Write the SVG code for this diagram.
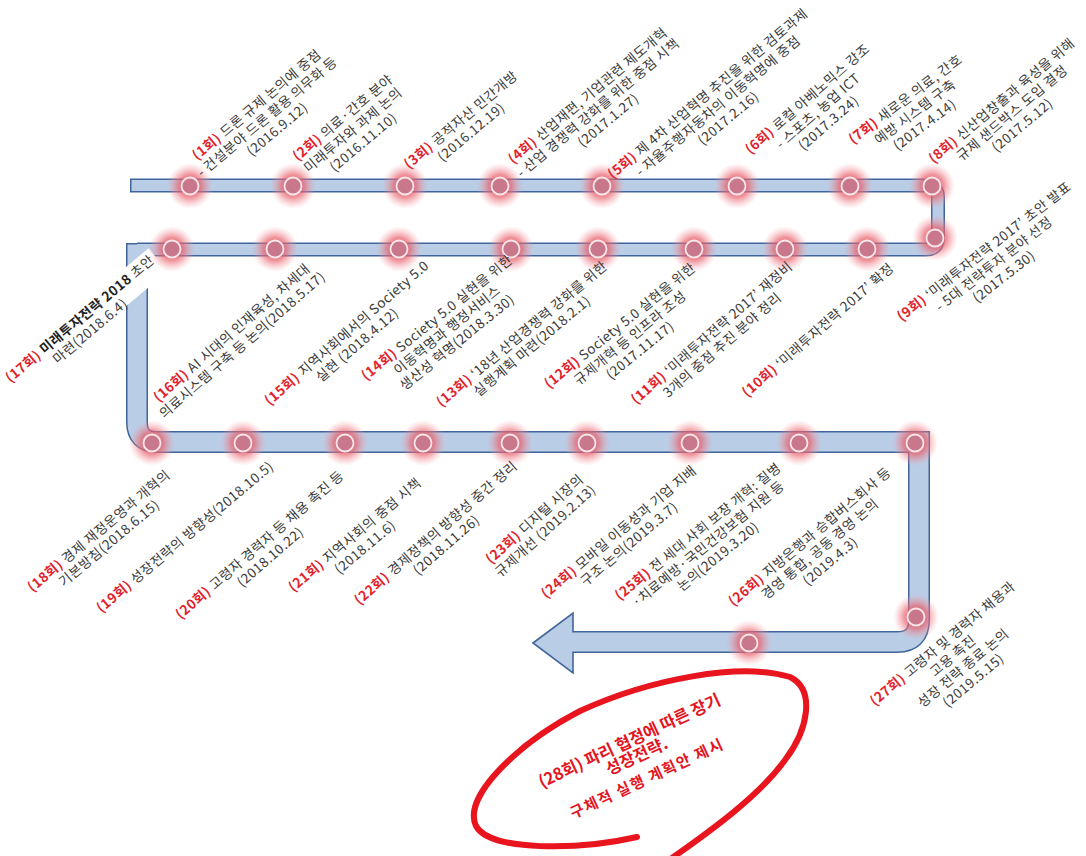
<svg xmlns="http://www.w3.org/2000/svg" xmlns:xlink="http://www.w3.org/1999/xlink" width="1086" height="856" viewBox="0 0 1086 856">
<style>
.t{font-family:"Noto Sans CJK KR","Noto Sans",sans-serif;font-size:13.5px;letter-spacing:0.5px;fill:#3a3a3a;text-anchor:middle}
.r{fill:#E3212B;font-weight:bold}
.b{font-weight:bold;fill:#222}
.dk{fill:none;stroke:#41659A;stroke-linejoin:miter}
.lt{fill:none;stroke:#B9CDE6;stroke-linejoin:miter}
.dot{fill:#C8788A;stroke:#F8E6EA;stroke-width:1.8}
.big{font-family:"Noto Sans CJK KR","Noto Sans",sans-serif;fill:#E3151F;font-weight:bold;text-anchor:middle}
</style>
<defs>
<radialGradient id="glow">
<stop offset="0" stop-color="#E4505E" stop-opacity="0.95"/>
<stop offset="0.5" stop-color="#E8646F" stop-opacity="0.7"/>
<stop offset="1" stop-color="#F4A0A8" stop-opacity="0"/>
</radialGradient>
<g id="m"><circle r="23" fill="url(#glow)"/><circle r="8.5" class="dot"/></g>
</defs>
<rect width="1086" height="856" fill="#fff"/>
<g id="connectors">
<path class="dk" stroke-width="14" d="M130,185.5 H926 Q938,185.5 938,197.5 V237.5 Q938,249.5 926,249.5 H137"/>
<path class="dk" stroke-width="22" d="M137,243 V422 Q137,442 157,442 H919 V620 Q919,642 897,642 H573"/>
<polygon points="533,643 573,613 573,673" fill="#B9CDE6" stroke="#41659A" stroke-width="1.6"/>
<path class="lt" stroke-width="11" d="M131.5,185.5 H926 Q938,185.5 938,197.5 V237.5 Q938,249.5 926,249.5 H137"/>
<path class="lt" stroke-width="19" d="M137,244.5 V422 Q137,442 157,442 H919 V620 Q919,642 897,642 H571"/>
</g>
<g id="n1"><use xlink:href="#m" x="190" y="186"/><g transform="translate(267,117) rotate(-40)">
<text class="t" y="-11.3"><tspan class="r">(1회)</tspan> 드론 규제 논의에 중점</text>
<text class="t" y="4.7">- 건설분야 드론 활용 의무화 등</text>
<text class="t" y="20.7">(2016.9.12)</text></g></g>
<g id="n2"><use xlink:href="#m" x="293" y="186"/><g transform="translate(353,130) rotate(-40)">
<text class="t" y="-11.3"><tspan class="r">(2회)</tspan> 의료·간호 분야</text>
<text class="t" y="4.7">미래투자와 과제 논의</text>
<text class="t" y="20.7">(2016.11.10)</text></g></g>
<g id="n3"><use xlink:href="#m" x="405" y="186"/><g transform="translate(466,126) rotate(-40)">
<text class="t" y="-3.3"><tspan class="r">(3회)</tspan> 공적자산 민간개방</text>
<text class="t" y="12.7">(2016.12.19)</text></g></g>
<g id="n4"><use xlink:href="#m" x="500" y="186"/><g transform="translate(598,108) rotate(-40)">
<text class="t" y="-11.3"><tspan class="r">(4회)</tspan> 산업재편, 기업관련 제도개혁</text>
<text class="t" y="4.7">- 산업 경쟁력 강화를 위한 중점 시책</text>
<text class="t" y="20.7">(2017.1.27)</text></g></g>
<g id="n5"><use xlink:href="#m" x="602" y="186"/><g transform="translate(718,106) rotate(-40)">
<text class="t" y="-11.3"><tspan class="r">(5회)</tspan> 제 4차 산업혁명 추진을 위한 검토과제</text>
<text class="t" y="4.7">- 자율주행자동차의 이동혁명에 중점</text>
<text class="t" y="20.7">(2017.2.16)</text></g></g>
<g id="n6"><use xlink:href="#m" x="737" y="186"/><g transform="translate(818,111) rotate(-41)">
<text class="t" y="-11.3"><tspan class="r">(6회)</tspan> 로컬 아베노믹스 강조</text>
<text class="t" y="4.7">- 스포츠, 농업 ICT</text>
<text class="t" y="20.7">(2017.3.24)</text></g></g>
<g id="n7"><use xlink:href="#m" x="850" y="186"/><g transform="translate(915,112) rotate(-37)">
<text class="t" y="-11.3"><tspan class="r">(7회)</tspan> 새로운 의료, 간호</text>
<text class="t" y="4.7">예방 시스템 구축</text>
<text class="t" y="20.7">(2017.4.14)</text></g></g>
<g id="n8"><use xlink:href="#m" x="932" y="186"/><g transform="translate(1012,113) rotate(-40)">
<text class="t" y="-11.3"><tspan class="r">(8회)</tspan> 신산업창출과 육성을 위해</text>
<text class="t" y="4.7">규제 샌드박스 도입 결정</text>
<text class="t" y="20.7">(2017.5.12)</text></g></g>
<g id="n9"><use xlink:href="#m" x="935" y="238"/><g transform="translate(994,264) rotate(-38)">
<text class="t" y="-11.3"><tspan class="r">(9회)</tspan> ‘미래투자전략 2017’ 초안 발표</text>
<text class="t" y="4.7">- 5대 전략투자 분야 선정</text>
<text class="t" y="20.7">(2017.5.30)</text></g></g>
<g id="n10"><use xlink:href="#m" x="867" y="249"/><g transform="translate(818,330) rotate(-41)">
<text class="t" y="4.7"><tspan class="r">(10회)</tspan> ‘미래투자전략 2017’ 확정</text></g></g>
<g id="n11"><use xlink:href="#m" x="785" y="249"/><g transform="translate(717,339) rotate(-41)">
<text class="t" y="-3.3"><tspan class="r">(11회)</tspan> ‘미래투자전략 2017’ 재정비</text>
<text class="t" y="12.7">3개의 중점 추진 분야 정리</text></g></g>
<g id="n12"><use xlink:href="#m" x="694" y="249"/><g transform="translate(630,338) rotate(-39)">
<text class="t" y="-11.3"><tspan class="r">(12회)</tspan> Society 5.0 실현을 위한</text>
<text class="t" y="4.7">규제개혁 등 인프라 조성</text>
<text class="t" y="20.7">(2017.11.17)</text></g></g>
<g id="n13"><use xlink:href="#m" x="598" y="249"/><g transform="translate(527,340) rotate(-40)">
<text class="t" y="-3.3"><tspan class="r">(13회)</tspan> ‘18년 산업경쟁력 강화를 위한</text>
<text class="t" y="12.7">실행계획 마련(2018.2.1)</text></g></g>
<g id="n14"><use xlink:href="#m" x="511" y="249"/><g transform="translate(447,330) rotate(-39)">
<text class="t" y="-11.3"><tspan class="r">(14회)</tspan> Society 5.0 실현을 위한</text>
<text class="t" y="4.7">이동혁명과 행정서비스</text>
<text class="t" y="20.7">생산성 혁명(2018.3.30)</text></g></g>
<g id="n15"><use xlink:href="#m" x="399" y="249"/><g transform="translate(352,339) rotate(-41)">
<text class="t" y="-3.3"><tspan class="r">(15회)</tspan> 지역사회에서의 Society 5.0</text>
<text class="t" y="12.7">실현 (2018.4.12)</text></g></g>
<g id="n16"><use xlink:href="#m" x="275" y="249"/><g transform="translate(237,339) rotate(-41)">
<text class="t" y="-3.3"><tspan class="r">(16회)</tspan> AI 시대의 인재육성, 차세대</text>
<text class="t" y="12.7">의료시스템 구축 등 논의(2018.5.17)</text></g></g>
<g id="n17"><g transform="translate(85,325) rotate(-40)">
<rect x="-98" y="-18" width="196" height="30" fill="#fff"/>
<text class="t" y="-3.3"><tspan class="r">(17회)</tspan> <tspan class="b">미래투자전략 2018</tspan> 초안</text>
<text class="t" y="12.7">마련(2018.6.4)</text></g><use xlink:href="#m" x="172" y="249"/></g>
<g id="n18"><use xlink:href="#m" x="152" y="443"/><g transform="translate(104,537) rotate(-40)">
<text class="t" y="-3.3"><tspan class="r">(18회)</tspan> 경제 재정운영과 개혁의</text>
<text class="t" y="12.7">기본방침(2018.6.15)</text></g></g>
<g id="n19"><use xlink:href="#m" x="243" y="443"/><g transform="translate(185,537) rotate(-40)">
<text class="t" y="4.7"><tspan class="r">(19회)</tspan> 성장전략의 방향성(2018.10.5)</text></g></g>
<g id="n20"><use xlink:href="#m" x="345" y="443"/><g transform="translate(265,551) rotate(-41)">
<text class="t" y="-3.3"><tspan class="r">(20회)</tspan> 고령자 경력자 등 채용 촉진 등</text>
<text class="t" y="12.7">(2018.10.22)</text></g></g>
<g id="n21"><use xlink:href="#m" x="423" y="443"/><g transform="translate(360,541) rotate(-40)">
<text class="t" y="-3.3"><tspan class="r">(21회)</tspan> 지역사회의 중점 시책</text>
<text class="t" y="12.7">(2018.11.6)</text></g></g>
<g id="n22"><use xlink:href="#m" x="510" y="443"/><g transform="translate(441,539) rotate(-41)">
<text class="t" y="-3.3"><tspan class="r">(22회)</tspan> 경제정책의 방향성 중간 정리</text>
<text class="t" y="12.7">(2018.11.26)</text></g></g>
<g id="n23"><use xlink:href="#m" x="587" y="443"/><g transform="translate(540,525) rotate(-42)">
<text class="t" y="-3.3"><tspan class="r">(23회)</tspan> 디지털 시장의</text>
<text class="t" y="12.7">규제개선 (2019.2.13)</text></g></g>
<g id="n24"><use xlink:href="#m" x="690" y="443"/><g transform="translate(624,538) rotate(-40)">
<text class="t" y="-3.3"><tspan class="r">(24회)</tspan> 모바일 이동성과 기업 지배</text>
<text class="t" y="12.7">구조 논의(2019.3.7)</text></g></g>
<g id="n25"><use xlink:href="#m" x="799" y="443"/><g transform="translate(708,544) rotate(-39)">
<text class="t" y="-11.3"><tspan class="r">(25회)</tspan> 전 세대 사회 보장 개혁: 질병</text>
<text class="t" y="4.7">·치료예방·국민건강보험 지원 등</text>
<text class="t" y="20.7">논의(2019.3.20)</text></g></g>
<g id="n26"><use xlink:href="#m" x="915" y="443"/><g transform="translate(820,549) rotate(-40)">
<text class="t" y="-11.3"><tspan class="r">(26회)</tspan> 지방은행과 승합버스회사 등</text>
<text class="t" y="4.7">경영 통합, 공동 경영 논의</text>
<text class="t" y="20.7">(2019.4.3)</text></g></g>
<g id="n27"><use xlink:href="#m" x="916" y="617"/><g transform="translate(958,662) rotate(-40)">
<text class="t" y="-19.3"><tspan class="r">(27회)</tspan> 고령자 및 경력자 채용과</text>
<text class="t" y="-3.3">고용 촉진</text>
<text class="t" y="12.7">성장 전략 종료 논의</text>
<text class="t" y="28.7">(2019.5.15)</text></g></g>
<g id="n28"><use xlink:href="#m" x="749" y="643"/>
<path d="M637,837 C580,850 490,852 476,826 C462,796 520,742 580,711 C650,679 740,662 790,677 C816,690 808,730 785,760 C760,795 712,830 672,858" fill="none" stroke="#E8141E" stroke-width="6" stroke-linecap="round"/>
<g transform="translate(637,757) rotate(-25)">
<text class="big" y="-12" font-size="16.5">(28회) 파리 협정에 따른 장기</text>
<text class="big" y="5" font-size="16.5">성장전략.</text>
<text class="big" y="29" font-size="15" letter-spacing="1.5">구체적 실행 계획안 제시</text></g></g>
</svg>
